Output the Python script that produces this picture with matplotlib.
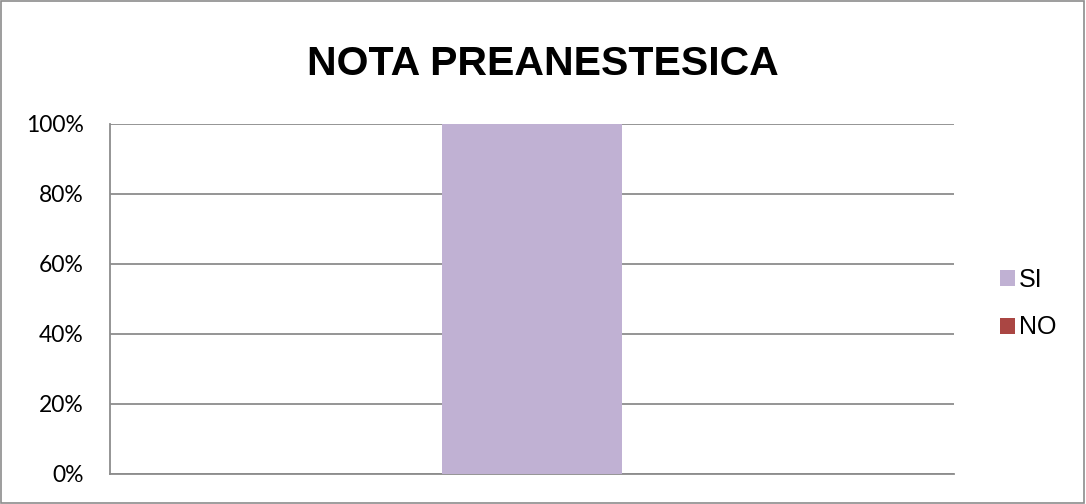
import matplotlib.pyplot as plt
from matplotlib.patches import Rectangle

# datos
categorias = ['']
series = ['SI', 'NO']
si_vals = [100]
no_vals = [0]
colores = ['#C0B1D3', '#AA4643']
ticks_y = [0, 20, 40, 60, 80, 100]
titulo = 'NOTA PREANESTESICA'

fig = plt.figure(figsize=(10.86, 5.04), dpi=100)
ax = fig.add_axes([110 / 1086, 30 / 504, 844 / 1086, 350 / 504])

x = list(range(len(categorias)))
ancho = 0.214
ax.bar(x, si_vals, width=ancho, color=colores[0], label=series[0], zorder=3)
ax.bar(x, no_vals, bottom=si_vals, width=ancho, color=colores[1], label=series[1], zorder=3)

ax.set_xlim(-0.5, 0.5)
ax.set_ylim(0, 100)
ax.set_yticks(ticks_y)
ax.set_yticklabels([f'{t}%' for t in ticks_y], fontsize=16.5, family='Lato',
                   va='center_baseline')
ax.set_xticks([])
ax.yaxis.grid(True, color='#8c8c8c', linewidth=1.3, zorder=0)
ax.tick_params(axis='y', length=0, pad=19)

for lado in ['top', 'right']:
    ax.spines[lado].set_visible(False)
for lado in ['left', 'bottom']:
    ax.spines[lado].set_color('#8c8c8c')
    ax.spines[lado].set_linewidth(1.3)

fig.text(0.5, 1 - 75 / 504, titulo, ha='center', va='baseline', fontsize=29.5,
         fontweight='bold', family='Liberation Sans')

leg = ax.legend(loc='center left', bbox_to_anchor=(1.028, 0.487), frameon=False,
                handlelength=0.6, handleheight=0.6, handletextpad=0.14,
                labelspacing=0.95, prop={'family': 'Liberation Sans', 'size': 18})

# borde de la figura
fig.patches.append(Rectangle((0.001, 0.002), 0.997, 0.996, transform=fig.transFigure,
                             fill=False, edgecolor='#8c8c8c', linewidth=1.2))

fig.savefig('out.png', dpi=100)
